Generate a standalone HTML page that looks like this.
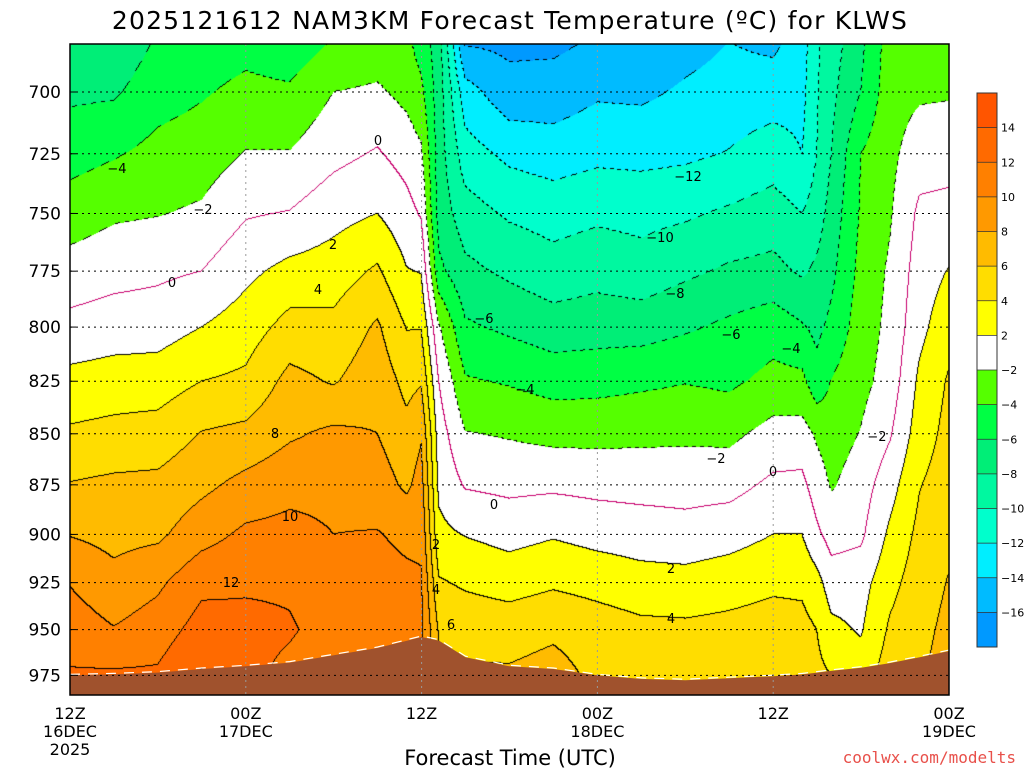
<!DOCTYPE html>
<html><head><meta charset="utf-8">
<style>
html,body{margin:0;padding:0;background:#fff;width:1024px;height:768px;overflow:hidden;font-family:"DejaVu Sans","Liberation Sans",sans-serif;}
#wrap{position:relative;width:1024px;height:768px;}
canvas{position:absolute;left:70px;top:44px;}
svg{position:absolute;left:0;top:0;}
</style></head><body>
<div id="wrap">
<canvas id="cv" width="879" height="651"></canvas>
<svg id="ov" width="1024" height="768"></svg>
</div>
<script>
const levels = [680,700,725,750,775,800,825,850,875,900,925,950,975];
const hours = [0,3,6,9,12,15,18,21,23,24,25.2,27,30,33,36,39,42,45,48,50,51,52,54,56,58,60];
const temps = [
[-7.5,-6.4,-4.8,-3.0,-1.2,0.6,2.6,4.3,6.1,7.9,9.9,11.1,12.2],
[-7.5,-6.3,-4.2,-2.3,-0.7,1.0,2.9,4.6,6.4,7.4,8.6,10.1,12.3],
[-5.8,-4.8,-3.4,-2.1,-0.4,1.1,3.0,4.8,6.5,7.6,9.6,11.0,12.3],
[-5.2,-4.2,-3.0,-1.7,0.0,2.0,4.0,6.1,7.5,9.2,11.5,12.8,14.2],
[-4.7,-3.5,-1.9,-0.2,1.5,3.0,4.4,6.5,8.6,10.4,11.7,12.6,12.5],
[-5.3,-3.7,-1.9,0.1,2.6,4.7,6.6,7.7,9.4,10.6,11.7,12.2,11.5],
[-3.9,-2.0,-0.6,1.3,3.0,4.5,5.8,8.4,9.5,10.0,10.8,11.3,11.0],
[-3.2,-1.7,0.2,2.0,4.3,6.3,7.3,8.0,9.0,10.1,10.7,10.9,10.5],
[-3.5,-2.6,-0.8,0.7,2.1,3.9,5.4,6.6,7.6,9.6,10.4,10.6,10.5],
[-5.0,-3.5,-1.7,-0.2,1.9,3.9,5.8,7.8,8.8,9.6,10.2,10.5,10.0],
[-7.0,-7.0,-7.0,-6.8,-5.5,-1.8,0.0,1.0,1.6,2.5,4.2,5.8,6.5],
[-16.3,-13.2,-11.1,-9.1,-7.5,-5.7,-3.8,-1.9,-0.2,1.9,3.7,5.3,6.3],
[-16.5,-15.3,-12.5,-10.3,-8.4,-6.4,-4.2,-2.2,-0.5,1.3,3.2,5.1,6.3],
[-16.5,-15.1,-13.0,-10.8,-9.2,-7.1,-4.8,-2.6,-0.4,1.8,3.7,5.6,6.8],
[-15.8,-14.3,-12.5,-10.4,-8.7,-6.9,-4.7,-2.6,-0.6,1.3,3.3,5.0,5.5],
[-15.6,-14.4,-12.6,-10.6,-9.2,-6.9,-4.4,-2.5,-0.7,1.0,2.8,4.5,5.2],
[-14.8,-13.7,-12.4,-10.3,-8.4,-6.3,-4.1,-2.4,-0.8,0.8,2.7,4.4,5.0],
[-14.0,-13.2,-11.9,-9.7,-7.7,-5.6,-4.4,-2.5,-0.7,1.2,3.1,4.6,5.0],
[-14.5,-13.0,-11.0,-9.1,-7.4,-4.9,-3.4,-1.3,0.4,2.0,3.6,4.9,5.5],
[-13.0,-12.6,-12.0,-10.0,-8.3,-5.8,-3.5,-1.2,0.5,2.0,3.6,4.6,5.0],
[-10.3,-10.2,-10.0,-9.0,-7.6,-6.5,-5.3,-2.3,-1.0,0.4,2.7,4.0,4.5],
[-9.0,-8.5,-8.0,-7.2,-6.5,-5.5,-3.9,-3.0,-2.2,-0.8,1.0,2.5,4.0],
[-6.5,-6.0,-4.0,-3.8,-3.4,-3.0,-2.6,-1.9,-1.0,-0.4,1.2,1.8,3.0],
[-3.0,-2.8,-2.5,-2.2,-1.7,-1.5,-1.2,-0.2,1.2,2.4,3.4,4.3,5.0],
[-3.2,-2.3,-0.9,0.4,0.9,1.4,2.4,3.0,3.9,4.5,5.0,5.4,5.8],
[-3.5,-2.2,-0.8,0.6,2.1,3.3,4.2,4.6,5.0,5.6,6.1,6.5,6.8]
];
const groundP = [975,974.5,973.5,971.5,970,968,964,960,956,954,956,965,970,971.5,975,977,977.7,976.6,975.5,974.5,973.5,972.5,970.8,968.2,965,961.7];
const tickLevels = [700,725,750,775,800,825,850,875,900,925,950,975];
const xTickHours = [0,12,24,36,48,60];
const xTickLabels = [["12Z","16DEC","2025"],["00Z","17DEC"],["12Z"],["00Z","18DEC"],["12Z"],["00Z","19DEC"]];
const cbLabels = ["14","12","10","8","6","4","2","-2","-4","-6","-8","-10","-12","-14","-16"];
const cbColors = ["#ff5500","#ff6a00","#ff8000","#ff9900","#ffbb00","#ffdd00","#ffff00","#ffffff","#55ff00","#00ff44","#00ee77","#00f8a0","#00ffcc","#00eeff","#00bbff","#0099ff"];

const X0=70,X1=949,Y0=44,Y1=695;
function xScale(h){return X0+(X1-X0)*h/60;}
function pToY(p){return 92+(Math.log(p)-Math.log(700))*1760.4;}
function colorIdx(t){
  if(t>=14)return 0; if(t>=12)return 1; if(t>=10)return 2; if(t>=8)return 3;
  if(t>=6)return 4; if(t>=4)return 5; if(t>=2)return 6; if(t>=-2)return 7;
  if(t>=-4)return 8; if(t>=-6)return 9; if(t>=-8)return 10; if(t>=-10)return 11;
  if(t>=-12)return 12; if(t>=-14)return 13; if(t>=-16)return 14; return 15;
}
function hex(c){return [parseInt(c.substr(1,2),16),parseInt(c.substr(3,2),16),parseInt(c.substr(5,2),16)];}
const rgb=cbColors.map(hex);

(function(){
  const cv=document.getElementById('cv');const ctx=cv.getContext('2d');
  const W=cv.width,H=cv.height;
  const colX=hours.map(xScale), rowY=levels.map(pToY);
  const T=new Float32Array(W*H);
  for(let py=0;py<H;py++){
    const y=Y0+py+0.5;
    let r=0; while(r<rowY.length-2 && y>rowY[r+1]) r++;
    let fy=(y-rowY[r])/(rowY[r+1]-rowY[r]); fy=Math.max(0,Math.min(1,fy));
    let c=0;
    for(let px=0;px<W;px++){
      const x=X0+px+0.5;
      while(c<colX.length-2 && x>colX[c+1]) c++;
      let fx=(x-colX[c])/(colX[c+1]-colX[c]); fx=Math.max(0,Math.min(1,fx));
      const a=temps[c][r]*(1-fy)+temps[c][r+1]*fy;
      const b=temps[c+1][r]*(1-fy)+temps[c+1][r+1]*fy;
      T[py*W+px]=a*(1-fx)+b*fx;
    }
  }
  const img=ctx.createImageData(W,H);const d=img.data;
  for(let py=0;py<H;py++)for(let px=0;px<W;px++){
    const i=py*W+px;const t=T[i];
    let col=rgb[colorIdx(t)];
    const k=Math.floor(t/2);
    let line=null;
    const nbrs=[];
    if(px<W-1)nbrs.push(T[i+1]); if(py<H-1)nbrs.push(T[i+W]);
    for(const n of nbrs){
      const k2=Math.floor(n/2);
      if(k2!==k){
        const lv=Math.max(k,k2)*2;
        if(lv===0){line=[200,0,110];}
        else if(lv<0){ if(((px+py)>>2)%2===0) line=[0,0,0]; }
        else line=[0,0,0];
        break;
      }
    }
    if(line)col=line;
    d[i*4]=col[0];d[i*4+1]=col[1];d[i*4+2]=col[2];d[i*4+3]=255;
  }
  ctx.putImageData(img,0,0);

  const svg=document.getElementById('ov');const NS='http://www.w3.org/2000/svg';
  function mk(tag,attrs,parent){const e=document.createElementNS(NS,tag);for(const k in attrs)e.setAttribute(k,attrs[k]);(parent||svg).appendChild(e);return e;}
  let pts=hours.map((h,i)=>xScale(h)+','+pToY(groundP[i]).toFixed(1)).join(' ');
  pts+=' '+X1+','+Y1+' '+X0+','+Y1;
  const g=mk('polygon',{points:pts,fill:'#a0522d'});
  
  
  const gl=mk('polyline',{points:hours.map((h,i)=>xScale(h)+','+(pToY(groundP[i])-1).toFixed(1)).join(' '),fill:'none',stroke:'#fff','stroke-width':1.2,'stroke-dasharray':'10 8'});
  
  
  tickLevels.forEach(p=>{
    const y=pToY(p);
    const l=mk('line',{x1:X0,x2:X1,y1:y,y2:y,stroke:'#000','stroke-width':1,'stroke-dasharray':'2 4'});
    
    
    const tk=mk('line',{x1:X0,x2:X0+6,y1:y,y2:y,stroke:'#000','stroke-width':1});
    
    
    const t=mk('text',{x:61,y:y+6,'text-anchor':'end','font-size':17,fill:'#000'});
    t.textContent=p;
    
    
  });
  xTickHours.forEach((h,i)=>{
    const x=xScale(h);
    if(i>0&&i<xTickHours.length-1){
      const l=mk('line',{x1:x,x2:x,y1:Y0,y2:Y1,stroke:'#999','stroke-width':1,'stroke-dasharray':'2 4'});
      
      
    }
    xTickLabels[i].forEach((s,j)=>{
      const t=mk('text',{x:x,y:719+j*18,'text-anchor':'middle','font-size':16,fill:'#000'});
      t.textContent=s;
      
      
    });
  });
  const fr=mk('rect',{x:X0,y:Y0,width:X1-X0,height:Y1-Y0,fill:'none',stroke:'#000','stroke-width':1.5});
  
  
  const labs=[["-4",117,173],["-2",203,214],["0",172,287],["0",378,145],["2",333,249],["4",318,294],["8",275,438],["10",290,521],["12",231,587],["2",436,549],["4",436,594],["6",451,629],["0",494,509],["-6",484,323],["-4",525,394],["-2",716,463],["0",773,476],["2",671,573],["4",671,623],["-12",688,181],["-10",660,242],["-8",675,298],["-6",731,339],["-4",791,353],["-2",877,441]];
  labs.forEach(a=>{
    const t=mk('text',{x:a[1],y:a[2],'text-anchor':'middle','font-size':13,fill:'#000'});
    t.textContent=a[0].replace('-','\u2212');
    
    
  });
  const cbX=977,cbY=93,cbW=20,cbH=554,n=cbColors.length,bh=cbH/n;
  cbColors.forEach((c,i)=>{
    const r=mk('rect',{x:cbX,y:cbY+i*bh,width:cbW,height:bh+0.5,fill:c});
    
    
  });
  const cf=mk('rect',{x:cbX,y:cbY,width:cbW,height:cbH,fill:'none',stroke:'#333','stroke-width':1});
  
  
  cbLabels.forEach((s,i)=>{
    const y=cbY+(i+1)*bh;
    mk('line',{x1:cbX,x2:cbX+cbW,y1:y,y2:y,stroke:'#333','stroke-width':0.7});
    const t=mk('text',{x:1001,y:y+4,'font-size':11,fill:'#000'});
    t.textContent=s.replace('-','\u2212');
    
    
  });
})();
</script>
<svg width="1024" height="768" style="position:absolute;left:0;top:0;pointer-events:none">
<text x="510" y="29" text-anchor="middle" font-size="25" letter-spacing="1.2" font-family="DejaVu Sans, sans-serif">2025121612 NAM3KM Forecast Temperature (ºC) for KLWS</text>
<text x="510" y="765" text-anchor="middle" font-size="21" font-family="DejaVu Sans, sans-serif">Forecast Time (UTC)</text>
<text x="1016" y="763" text-anchor="end" font-size="16" fill="#e8504a" font-family="DejaVu Sans Mono, Liberation Mono, monospace">coolwx.com/modelts</text>
</svg>
</body></html>
